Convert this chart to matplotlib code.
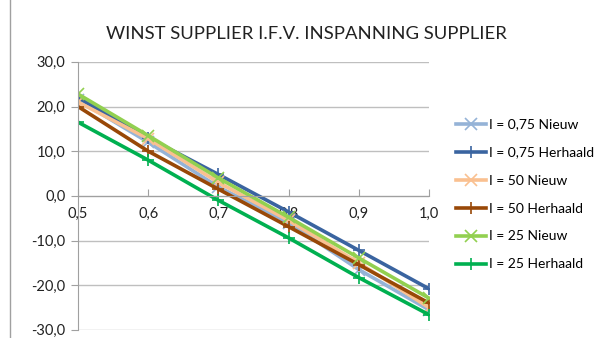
import matplotlib.pyplot as plt
from matplotlib.lines import Line2D
from matplotlib.ticker import FuncFormatter

plt.rcParams["font.family"] = ["Lato", "DejaVu Sans"]

inspanning = [0.5, 0.6, 0.7, 0.8, 0.9, 1.0]

series_names = [
    "I = 0,75 Nieuw",
    "I = 0,75 Herhaald",
    "I = 50 Nieuw",
    "I = 50 Herhaald",
    "I = 25 Nieuw",
    "I = 25 Herhaald",
]

nieuw_075 = [21.5, 12.0, 2.0, -6.0, -16.5, -25.5]
herhaald_075 = [22.0, 13.0, 4.8, -3.6, -12.2, -20.8]
nieuw_50 = [21.0, 12.8, 3.0, -5.5, -15.0, -25.0]
herhaald_50 = [20.0, 10.0, 1.5, -6.9, -15.4, -24.0]
nieuw_25 = [22.8, 13.5, 4.0, -4.8, -13.9, -22.9]
herhaald_25 = [16.5, 8.0, -1.0, -9.4, -18.3, -26.6]

series_values = [nieuw_075, herhaald_075, nieuw_50, herhaald_50, nieuw_25, herhaald_25]
colors = ["#95B3D7", "#3A64A0", "#FAC090", "#984807", "#92D050", "#00B050"]
markers = ["x", "+", "x", "+", "x", "+"]

fig = plt.figure(figsize=(6, 3.38), dpi=100)
ax = fig.add_axes([0.13, 0.024, 0.585, 0.793])

for name, vals, col, mk in zip(series_names, series_values, colors, markers):
    ax.plot(inspanning, vals, color=col, lw=2.6, marker=mk, markersize=8,
            markeredgewidth=1.2, label=name)

ax.set_xlim(0.5, 1.0)
ax.set_ylim(-30, 30)
ax.set_yticks(range(-30, 31, 10))
ax.set_xticks(inspanning)
fmt = FuncFormatter(lambda v, p: f"{v:.1f}".replace(".", ","))
ax.yaxis.set_major_formatter(fmt)
ax.xaxis.set_major_formatter(fmt)

ax.grid(axis="y", color="#BFBFBF", lw=1)
ax.set_axisbelow(True)
for s in ["top", "right"]:
    ax.spines[s].set_visible(False)
ax.spines["bottom"].set_position(("data", 0))
ax.spines["bottom"].set_color("#A0A0A0")
ax.spines["left"].set_color("#A0A0A0")
ax.tick_params(axis="y", colors="#A0A0A0", labelcolor="#222222", labelsize=10.5,
               length=5, pad=4)
ax.tick_params(axis="x", colors="#A0A0A0", labelcolor="#222222", labelsize=10.5,
               length=5, direction="in", pad=8)

fig.text(0.51, 0.9, "WINST SUPPLIER I.F.V. INSPANNING SUPPLIER", ha="center",
         va="center", fontsize=13.3, color="#222222")

ax.legend(loc="center left", bbox_to_anchor=(1.04, 0.505), frameon=False,
          fontsize=10, handlelength=2.2, handletextpad=0.2, labelspacing=1.15)

fig.add_artist(Line2D([10 / 600, 10 / 600], [0, 1], color="#A0A0A0", lw=1))

fig.savefig("out.png", dpi=100)
